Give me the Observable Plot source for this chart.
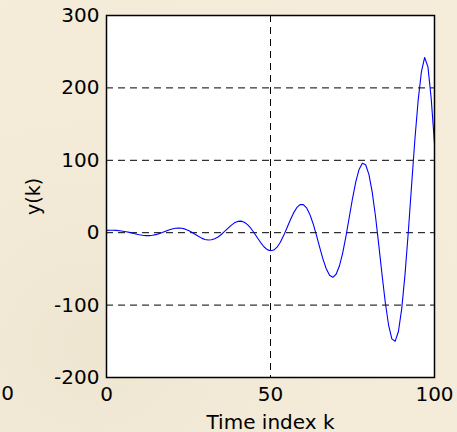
<!DOCTYPE html>
<html>
<head>
<meta charset="utf-8">
<script src="https://cdn.jsdelivr.net/npm/d3@7"></script>
<script src="https://cdn.jsdelivr.net/npm/@observablehq/plot@0.6"></script>
<style>
  html, body { margin: 0; padding: 0; }
  body {
    width: 457px; height: 432px; overflow: hidden;
    background: radial-gradient(ellipse at 20% 80%, #efe6d2 0%, #f3ead8 40%, #f5edda 100%);
    font-family: "DejaVu Sans", sans-serif;
  }
  #chart svg { display: block; }
</style>
</head>
<body>
<div id="chart"></div>
<script>
// Time index k
const k = d3.range(0, 101);
// y(k), one value per k = 0..100
const yk = [
  3.2, 3.3, 3.3, 3.2, 2.7, 2.1, 1.4, 0.4, -0.7, -1.8,
  -2.9, -3.6, -4.0, -4.0, -3.6, -2.7, -1.3, 0.3, 2.1, 3.8,
  5.2, 6.2, 6.5, 6.1, 4.9, 3.0, 0.5, -2.2, -5.0, -7.5,
  -9.3, -10.0, -9.8, -8.4, -6.0, -2.5, 1.7, 6.1, 10.2, 13.6,
  15.6, 16.0, 14.5, 11.2, 6.2, 0.0, -6.9, -13.6, -19.4, -23.4,
  -25.0, -24.0, -20.0, -13.1, -4.0, 6.4, 17.2, 27.0, 34.5, 38.8,
  38.9, 34.3, 25.3, 12.4, -3.3, -20.2, -36.4, -49.8, -58.8, -61.6,
  -57.4, -46.1, -28.1, -5.0, 21.0, 47.2, 70.3, 87.4, 96.0, 93.9,
  80.5, 56.3, 23.0, -16.4, -57.8, -96.4, -127.5, -146.7, -150.0, -136.5,
  -105.2, -58.3, 0.3, 64.6, 127.7, 182.0, 222.0, 242.0, 229.0, 185.0,
  123.0
];
const xTicks = [0, 50, 100];
const yTicks = [-200, -100, 0, 100, 200, 300];
const xGrid = [50];
const yGrid = [-100, 0, 100, 200];
const xLabel = "Time index k";
const yLabel = "y(k)";
const strayLabel = "0";

const data = k.map((v, i) => ({k: v, y: yk[i]}));
const fmt = d => String(d);

const chart = Plot.plot({
  width: 457,
  height: 432,
  marginLeft: 106,
  marginRight: 23,
  marginTop: 15,
  marginBottom: 55,
  style: {background: "transparent", fontFamily: "DejaVu Sans, sans-serif", fontSize: "20px", color: "black", overflow: "visible"},
  x: {domain: [0, 100]},
  y: {domain: [-200, 300]},
  marks: [
    Plot.frame({fill: "white", stroke: null}),
    Plot.ruleY(yGrid, {stroke: "black", strokeWidth: 1, strokeDasharray: "7,5"}),
    Plot.ruleX(xGrid, {stroke: "black", strokeWidth: 1, strokeDasharray: "7,5"}),
    Plot.line(data, {x: "k", y: "y", stroke: "#0000ff", strokeWidth: 1.1}),
    Plot.frame({stroke: "black", strokeWidth: 1.5}),
    Plot.axisX(xTicks, {tickSize: 0, tickPadding: 9, label: null, fontSize: 20, tickFormat: fmt}),
    Plot.axisY(yTicks, {tickSize: 0, tickPadding: 7, label: null, fontSize: 20, tickFormat: fmt}),
    Plot.text([xLabel], {frameAnchor: "bottom", dy: 51, lineAnchor: "bottom", textAnchor: "middle", fontSize: 20, fill: "black"}),
    Plot.text([yLabel], {frameAnchor: "left", dx: -73, rotate: -90, textAnchor: "middle", lineAnchor: "middle", fontSize: 19, fill: "black"}),
    Plot.text([strayLabel], {frameAnchor: "bottom-left", dx: -99, dy: 16.5, textAnchor: "middle", lineAnchor: "middle", fontSize: 20, fill: "black"})
  ]
});
document.getElementById("chart").appendChild(chart);
</script>
</body>
</html>
